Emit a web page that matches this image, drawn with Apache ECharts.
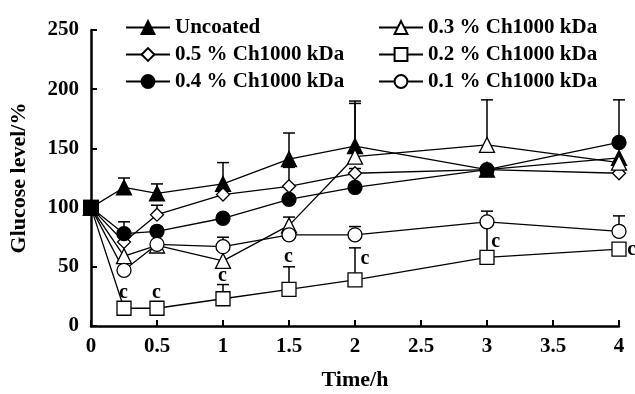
<!DOCTYPE html>
<html>
<head>
<meta charset="utf-8">
<script src="https://cdn.jsdelivr.net/npm/echarts@6/dist/echarts.min.js"></script>
<style>
  html, body {margin: 0; padding: 0; background: #fff;}
  #chart {width: 635px; height: 394px;}
</style>
</head>
<body>
<div id="chart"></div>
<script>
const times = [0, 0.25, 0.5, 1, 1.5, 2, 3, 4];

const uncoated = [100, 117, 112, 120, 141, 152, 132, 142];
const uncoatedErr = [0, 8, 8, 18, 22, 38, 0, 0];
const ch05 = [100, 71, 94, 111, 118, 129, 132, 129];
const ch05Err = [0, 0, 8, 0, 16, 4, 0, 0];
const ch04 = [100, 78, 80, 91, 107, 117, 132, 155];
const ch04Err = [0, 10, 0, 0, 0, 0, 0, 36];
const ch03 = [100, 59, 68, 55, 85, 143, 153, 138];
const ch03Err = [0, 0, 0, 0, 7, 45, 38, 0];
const ch02 = [100, 15, 15, 23, 31, 39, 58, 65];
const ch02Err = [0, 0, 4, 12, 19, 27, 28, 0];
const ch01 = [100, 47, 69, 67, 77, 77, 88, 80];
const ch01Err = [0, 0, 0, 8, 0, 7, 9, 13];

// "c" significance marks (centre of the letter): [time, value]
const cMarks = [[0.25, 28], [0.5, 28], [1, 42], [1.5, 58], [2.08, 56], [3.07, 71], [4.1, 64]];

const xTicks = [0, 0.5, 1, 1.5, 2, 2.5, 3, 3.5, 4];

const FONT = 'Liberation Serif';

function lineSeries(name, values, symbol, filled, size) {
  return {
    name: name,
    type: 'line',
    data: times.map((t, i) => [t, values[i]]),
    symbol: symbol,
    symbolSize: size,
    showAllSymbol: true,
    lineStyle: {color: '#000', width: 1.3},
    itemStyle: {color: filled ? '#000' : '#fff', borderColor: '#000', borderWidth: 1.3},
    z: 3
  };
}

function errSeries(values, errs) {
  const d = [];
  times.forEach((t, i) => { if (errs[i] > 0) d.push([t, values[i], values[i] + errs[i]]); });
  return {
    type: 'custom',
    data: d,
    z: 2,
    silent: true,
    renderItem(params, api) {
      const lo = api.coord([api.value(0), api.value(1)]);
      const hi = api.coord([api.value(0), api.value(2)]);
      const w = 6;
      return {
        type: 'group',
        children: [
          {type: 'line', shape: {x1: lo[0], y1: lo[1], x2: hi[0], y2: hi[1]}, style: {stroke: '#000', lineWidth: 1.5}},
          {type: 'line', shape: {x1: hi[0] - w, y1: hi[1], x2: hi[0] + w, y2: hi[1]}, style: {stroke: '#000', lineWidth: 1.5}}
        ]
      };
    }
  };
}

const chart = echarts.init(document.getElementById('chart'));
const legendText = {fontFamily: FONT, fontWeight: 'bold', fontSize: 21, color: '#000'};
const titleText = {fontFamily: FONT, fontWeight: 'bold', fontSize: 22, color: '#000'};

chart.setOption({
  animation: false,
  grid: {left: 91, right: 16, top: 30, bottom: 68, outerBoundsMode: 'none', containLabel: false},
  legend: [{
    data: ['Uncoated', '0.5 % Ch1000 kDa', '0.4 % Ch1000 kDa'],
    orient: 'vertical', left: 120, top: 12, itemGap: 6, itemWidth: 44, itemHeight: 16,
    textStyle: legendText
  }, {
    data: ['0.3 % Ch1000 kDa', '0.2 % Ch1000 kDa', '0.1 % Ch1000 kDa'],
    orient: 'vertical', left: 373, top: 12, itemGap: 6, itemWidth: 44, itemHeight: 16,
    textStyle: legendText
  }],
  xAxis: {
    type: 'value', min: 0, max: 4, interval: 0.5,
    name: 'Time/h', nameLocation: 'middle', nameGap: 43,
    nameTextStyle: titleText,
    axisLine: {lineStyle: {color: '#000', width: 2.5}},
    axisTick: {inside: true, length: 6, lineStyle: {color: '#000', width: 2}},
    axisLabel: {fontFamily: FONT, fontWeight: 'bold', fontSize: 21, color: '#000', margin: 10,
      formatter: v => xTicks.includes(v) ? String(v) : ''},
    splitLine: {show: false}
  },
  yAxis: {
    type: 'value', min: 0, max: 250, interval: 50,
    name: 'Glucose level/%', nameLocation: 'middle', nameGap: 61, nameRotate: 90,
    nameTextStyle: titleText,
    axisLine: {show: true, lineStyle: {color: '#000', width: 2.5}},
    axisTick: {show: true, inside: true, length: 6, lineStyle: {color: '#000', width: 2}},
    axisLabel: {fontFamily: FONT, fontWeight: 'bold', fontSize: 21, color: '#000', margin: 12},
    splitLine: {show: false}
  },
  series: [
    errSeries(uncoated, uncoatedErr),
    errSeries(ch05, ch05Err),
    errSeries(ch04, ch04Err),
    errSeries(ch03, ch03Err),
    errSeries(ch02, ch02Err),
    errSeries(ch01, ch01Err),
    lineSeries('Uncoated', uncoated, 'triangle', true, 15),
    lineSeries('0.5 % Ch1000 kDa', ch05, 'diamond', false, 13),
    lineSeries('0.4 % Ch1000 kDa', ch04, 'circle', true, 14),
    lineSeries('0.3 % Ch1000 kDa', ch03, 'triangle', false, 15),
    lineSeries('0.2 % Ch1000 kDa', ch02, 'rect', false, 14),
    lineSeries('0.1 % Ch1000 kDa', ch01, 'circle', false, 14),
    {
      type: 'scatter', data: [[times[0], uncoated[0]]], symbol: 'rect', symbolSize: 16,
      itemStyle: {color: '#000', opacity: 1}, z: 5, silent: true
    },
    {
      type: 'scatter', data: cMarks, symbol: 'circle', symbolSize: 1, clip: false, silent: true,
      itemStyle: {color: '#fff', opacity: 0},
      label: {show: true, formatter: 'c', position: [0, 0], align: 'center', verticalAlign: 'middle',
        fontFamily: FONT, fontWeight: 'bold', fontSize: 20, color: '#000', opacity: 1},
      z: 4
    }
  ]
});
</script>
</body>
</html>
